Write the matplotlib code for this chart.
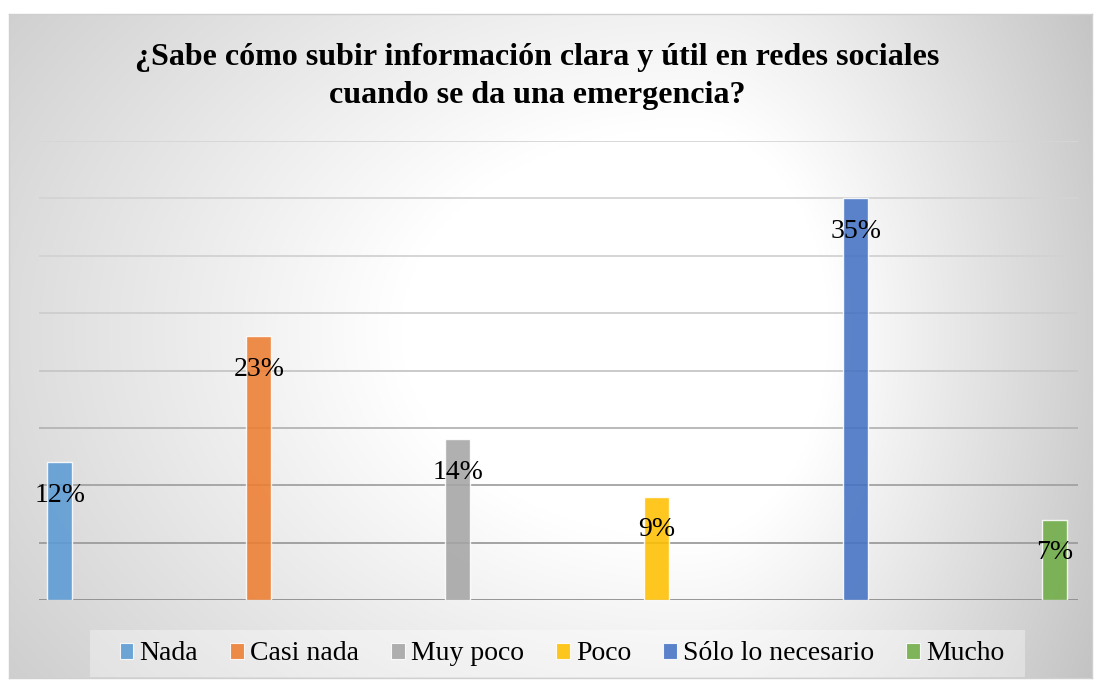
import numpy as np
import matplotlib
matplotlib.use("Agg")
import matplotlib.pyplot as plt
from matplotlib.patches import Rectangle

categories = ["Nada", "Casi nada", "Muy poco", "Poco", "Sólo lo necesario", "Mucho"]
values = [12, 23, 14, 9, 35, 7]
colors = ["#5B9BD5", "#ED7D31", "#A5A5A5", "#FFC000", "#4472C4", "#70AD47"]
title_lines = ["¿Sabe cómo subir información clara y útil en redes sociales",
               "cuando se da una emergencia?"]
grid_levels = [0, 5, 10, 15, 20, 25, 30, 35, 40]
grid_colors = ["#8e8e8e", "#9c9c9c", "#a2a2a2", "#b4b4b4", "#c6c6c6",
               "#cecece", "#d2d2d2", "#d4d4d4", "#d6d6d6"]

W, H, DPI = 1101, 684, 100
plt.rcParams["font.family"] = ["Liberation Serif", "DejaVu Serif"]

fig = plt.figure(figsize=(W / DPI, H / DPI), dpi=DPI)
fig.patch.set_facecolor("white")

def fx(px):
    return px / W

def fy(py):
    return 1 - py / H

# chart area with an off-centre radial gradient
x0, y0, x1, y1 = 9, 14, 1092, 678
bg = fig.add_axes([fx(x0), fy(y1), fx(x1 - x0), (y1 - y0) / H])
gx = np.linspace(x0, x1, 540)
gy = np.linspace(y0, y1, 330)
XX, YY = np.meshgrid(gx, gy)
cx, cy = 690, 330
rx = np.where(XX < cx, 830.0, 402.0)
ry = np.where(YY < cy, 584.0, 600.0)
t = np.sqrt(((XX - cx) / rx) ** 2 + ((YY - cy) / ry) ** 2)
shade = 1.0 - 0.29 * np.clip(t - 0.35, 0, None)
shade = np.clip(shade, 0.75, 1.0)
img = np.dstack([shade, shade, shade])
bg.imshow(img, extent=[0, 1, 0, 1], aspect="auto", origin="upper")
bg.set_xlim(0, 1)
bg.set_ylim(0, 1)
bg.set_xticks([])
bg.set_yticks([])
for s in bg.spines.values():
    s.set_color("#cfcfcf")
    s.set_linewidth(1.0)

# plot area
ax = fig.add_axes([fx(39), fy(600), fx(1078 - 39), (600 - 141) / H])
ax.set_facecolor("none")
x = np.arange(len(categories))
ax.set_xlim(-0.105, len(categories) - 1 + 0.116)
ax.set_ylim(0, 40)
for lvl, gc in zip(grid_levels, grid_colors):
    ax.axhline(lvl, color=gc, linewidth=1.3, zorder=1)
ax.tick_params(left=False, bottom=False, labelleft=False, labelbottom=False)
for s in ax.spines.values():
    s.set_visible(False)

ax.bar(x, values, width=0.125, color=colors, alpha=0.88,
       edgecolor=(1, 1, 1, 0.5), linewidth=1.0, zorder=3)
for xi, v in zip(x, values):
    ax.annotate(f"{v}%", (xi, v), xytext=(0, -33), textcoords="offset pixels",
                ha="center", va="center", fontsize=20, color="black", zorder=4)

fig.text(fx(537), fy(57), title_lines[0], ha="center", va="center",
         fontsize=23, fontweight="bold")
fig.text(fx(537), fy(95), title_lines[1], ha="center", va="center",
         fontsize=23, fontweight="bold")

# legend box
fig.patches.append(Rectangle((fx(90), fy(677)), fx(1025 - 90), (677 - 630) / H,
                             transform=fig.transFigure, facecolor=(1, 1, 1, 0.35),
                             edgecolor="none", zorder=2))
handles = [Rectangle((0, 0), 1, 1, facecolor=c, alpha=0.88,
                     edgecolor=(1, 1, 1, 0.5), linewidth=0.8) for c in colors]
leg = fig.legend(handles, categories, loc="center", bbox_to_anchor=(fx(562), fy(654)),
                 ncol=6, fontsize=20, frameon=False, handlelength=0.5, handleheight=0.5,
                 handletextpad=0.22, columnspacing=1.15, borderpad=0.0)

fig.savefig("out.png", dpi=DPI)
